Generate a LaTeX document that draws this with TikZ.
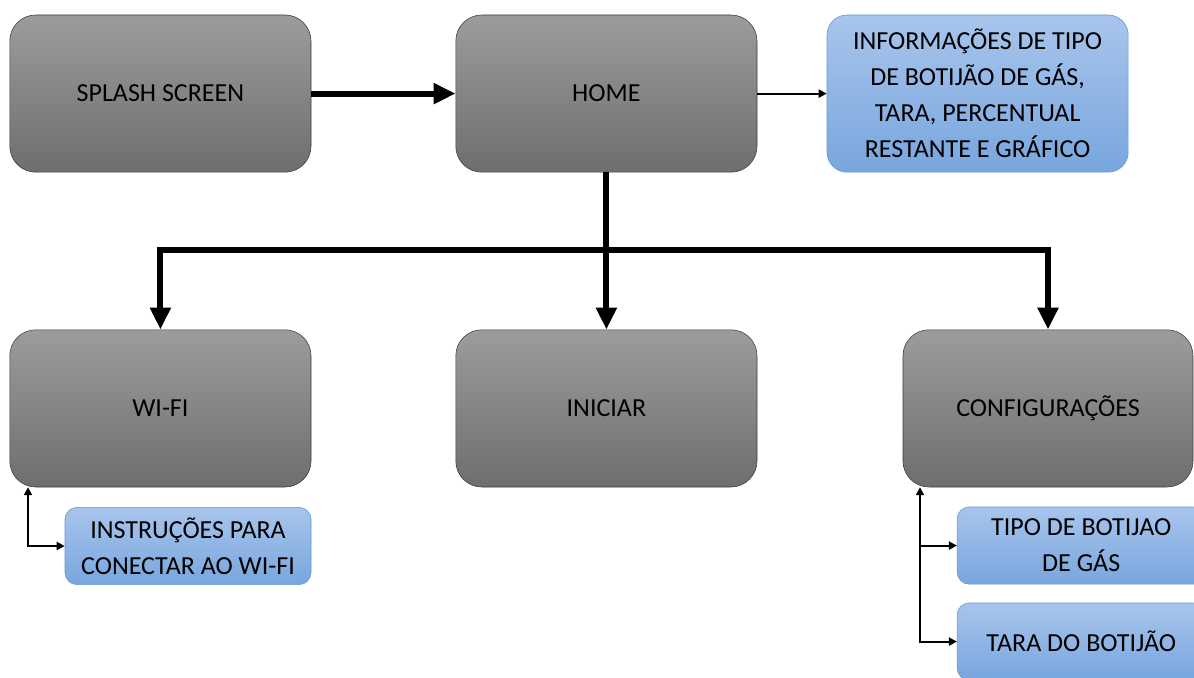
\documentclass[tikz,border=0pt]{standalone}
\usepackage{fontspec}
\setmainfont{Carlito}
\usepackage{tikz}
\usetikzlibrary{positioning,calc,arrows.meta}
\definecolor{ScreenTop}{RGB}{156,156,156}
\definecolor{ScreenBottom}{RGB}{110,110,110}
\definecolor{ScreenEdge}{RGB}{60,60,60}
\definecolor{InfoTop}{RGB}{168,197,236}
\definecolor{InfoBottom}{RGB}{120,166,222}
\definecolor{InfoEdge}{RGB}{100,150,210}

\begin{document}
\begin{tikzpicture}[
    font=\fontsize{18.5}{25.6}\selectfont,
    screen/.style={
        draw=ScreenEdge,
        rounded corners=0.65cm,
        minimum width=7.53cm,
        minimum height=3.93cm,
        align=center,
        top color=ScreenTop,
        bottom color=ScreenBottom
    },
    info/.style={
        draw=InfoEdge,
        rounded corners=0.3cm,
        minimum height=1.93cm,
        align=center,
        top color=InfoTop,
        bottom color=InfoBottom
    },
    flow/.style={
        draw=black,
        line width=4.3pt,
        -{Triangle[length=0.55cm,width=0.5cm]}
    },
    link/.style={
        draw=black,
        line width=1.4pt,
        -{Triangle[length=0.2cm,width=0.2cm]}
    },
    bothlink/.style={
        draw=black,
        line width=1.4pt,
        {Triangle[length=0.2cm,width=0.2cm]}-{Triangle[length=0.2cm,width=0.2cm]}
    }
]

\clip (0,0) rectangle (29.85,-16.95);

\node[screen] (splash) at (4.01,-2.34) {SPLASH SCREEN};
\node[screen] (home) at (15.16,-2.34) {HOME};
\node[info, minimum width=7.53cm, minimum height=3.93cm, rounded corners=0.5cm] (dados) at (24.44,-2.34)
    {INFORMAÇÕES DE TIPO\\DE BOTIJÃO DE GÁS,\\TARA, PERCENTUAL\\RESTANTE E GRÁFICO};

\node[screen] (wifi) at (4.01,-10.21) {WI-FI};
\node[screen] (iniciar) at (15.16,-10.21) {INICIAR};
\node[screen, minimum width=7.25cm] (config) at (26.2,-10.21) {CONFIGURAÇÕES};

\node[info, minimum width=6.15cm] (instrucoes) at (4.7,-13.65)
    {INSTRUÇÕES PARA\\CONECTAR AO WI-FI};
\node[info, minimum width=6.2cm] (tipo) at (27.03,-13.64) {TIPO DE BOTIJAO\\DE GÁS};
\node[info, minimum width=6.2cm] (tara) at (27.03,-16.04) {TARA DO BOTIJÃO};

\coordinate (bus) at (15.16,-6.25);
\coordinate (wfbar) at (0.7,-12.18);
\coordinate (cfbar) at (23.0,-12.18);

\draw[flow] (splash.east) -- (home.west);
\draw[link] (home.east) -- (dados.west);

% ramificacao da home
\draw[line width=4.3pt] (home.south) -- (bus);
\draw[flow] (bus) -- (iniciar.north);
\draw[flow] ([xshift=2.15pt]bus) -| (wifi.north);
\draw[flow] ([xshift=-2.15pt]bus) -| (config.north);

\draw[bothlink] (wfbar) |- (instrucoes.west);
\draw[bothlink] (cfbar) |- (tara.west);
\draw[link] (tipo.west -| cfbar) -- (tipo.west);

\end{tikzpicture}
\end{document}
